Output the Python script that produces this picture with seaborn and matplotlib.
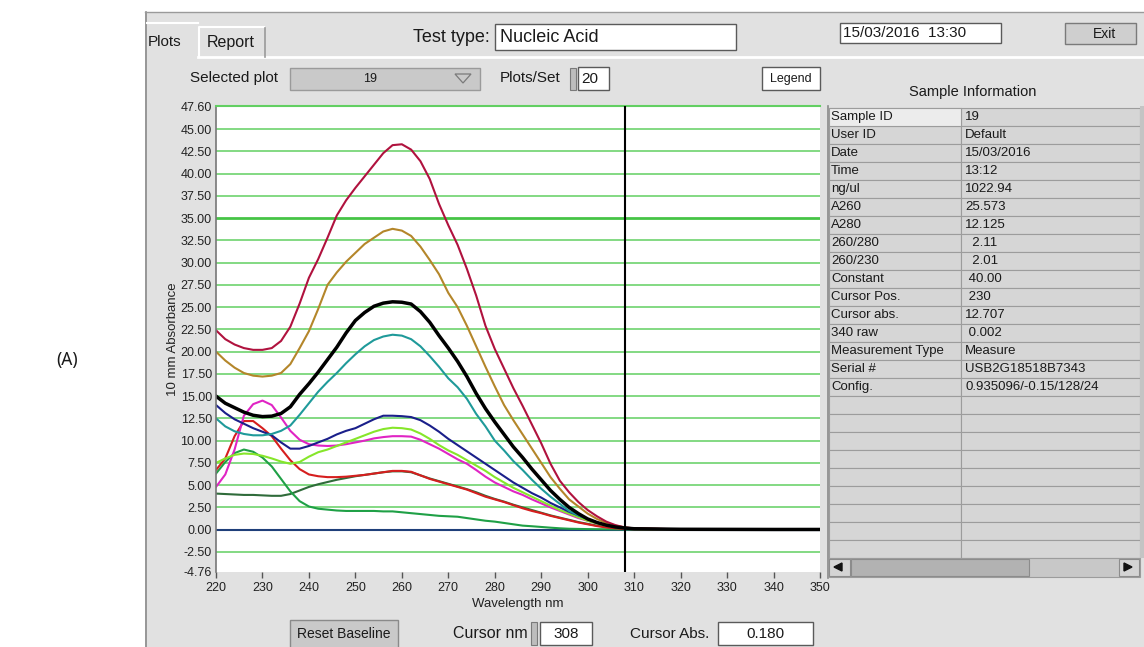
import pandas as pd
import numpy as np
import matplotlib
matplotlib.use("Agg")
import matplotlib.pyplot as plt
import seaborn as sns
from matplotlib.patches import Rectangle, Polygon
from matplotlib.lines import Line2D

plt.rcParams['font.family'] = ['Liberation Sans', 'DejaVu Sans']

# dados (absorbancia por comprimento de onda)
wavelength = [220, 222, 224, 226, 228, 230, 232, 234, 236, 238,
              240, 242, 244, 246, 248, 250, 252, 254, 256, 258,
              260, 262, 264, 266, 268, 270, 272, 274, 276, 278,
              280, 282, 284, 286, 288, 290, 292, 294, 296, 298,
              300, 302, 304, 306, 308, 310, 320, 330, 340, 350]

crimson = [22.4, 21.4, 20.8, 20.4, 20.2, 20.2, 20.4, 21.2, 22.8, 25.4,
           28.3, 30.4, 32.8, 35.3, 37.0, 38.4, 39.7, 41.0, 42.3, 43.2,
           43.3, 42.7, 41.4, 39.4, 36.6, 34.2, 32.0, 29.3, 26.3, 22.9,
           20.3, 18.1, 15.9, 13.9, 11.8, 9.7, 7.4, 5.5, 4.2, 3.1,
           2.2, 1.5, 0.9, 0.5, 0.25, 0.15, 0.04, 0.03, 0.02, 0.02]
gold = [20.0, 19.0, 18.2, 17.6, 17.3, 17.2, 17.3, 17.6, 18.6, 20.4,
        22.3, 24.8, 27.5, 28.9, 30.1, 31.1, 32.1, 32.8, 33.5, 33.8,
        33.6, 33.0, 31.8, 30.3, 28.7, 26.6, 25.0, 22.9, 20.6, 18.3,
        16.1, 14.0, 12.3, 10.7, 9.1, 7.5, 5.9, 4.6, 3.4, 2.6,
        1.8, 1.2, 0.75, 0.45, 0.25, 0.12, 0.04, 0.03, 0.02, 0.02]
black = [15.0, 14.2, 13.7, 13.2, 12.85, 12.7, 12.75, 13.05, 13.8, 15.2,
         16.4, 17.7, 19.1, 20.5, 22.1, 23.5, 24.4, 25.1, 25.45, 25.6,
         25.55, 25.35, 24.5, 23.3, 21.8, 20.4, 18.9, 17.2, 15.3, 13.6,
         12.1, 10.7, 9.3, 8.1, 6.8, 5.6, 4.4, 3.4, 2.5, 1.8,
         1.2, 0.8, 0.5, 0.3, 0.18, 0.1, 0.04, 0.03, 0.02, 0.02]
teal = [12.5, 11.6, 11.05, 10.75, 10.6, 10.6, 10.75, 11.1, 11.7, 12.9,
        14.2, 15.5, 16.6, 17.6, 18.7, 19.7, 20.6, 21.3, 21.7, 21.9,
        21.8, 21.4, 20.6, 19.5, 18.3, 17.0, 16.0, 14.7, 13.0, 11.6,
        10.0, 8.9, 7.7, 6.7, 5.6, 4.6, 3.7, 2.9, 2.1, 1.6,
        1.2, 0.8, 0.5, 0.3, 0.15, 0.1, 0.04, 0.03, 0.02, 0.02]
navy = [14.0, 13.1, 12.4, 11.9, 11.4, 11.0, 10.6, 9.8, 9.1, 9.1,
        9.4, 9.8, 10.2, 10.7, 11.1, 11.4, 11.9, 12.4, 12.8, 12.8,
        12.75, 12.65, 12.3, 11.7, 11.0, 10.2, 9.5, 8.8, 8.1, 7.4,
        6.7, 6.0, 5.3, 4.7, 4.1, 3.6, 3.0, 2.5, 2.0, 1.6,
        1.2, 0.8, 0.5, 0.3, 0.15, 0.1, 0.04, 0.03, 0.02, 0.02]
lime = [7.5, 8.0, 8.4, 8.55, 8.5, 8.3, 8.0, 7.65, 7.4, 7.6,
        8.2, 8.7, 9.0, 9.4, 9.8, 10.2, 10.6, 11.0, 11.3, 11.45,
        11.4, 11.25, 10.8, 10.2, 9.5, 8.9, 8.4, 7.8, 7.2, 6.6,
        5.9, 5.3, 4.7, 4.2, 3.7, 3.2, 2.7, 2.2, 1.8, 1.4,
        1.0, 0.7, 0.45, 0.3, 0.15, 0.1, 0.04, 0.03, 0.02, 0.02]
magenta = [4.8, 6.2, 9.0, 12.8, 14.1, 14.5, 14.0, 12.6, 11.1, 10.1,
           9.6, 9.45, 9.4, 9.45, 9.6, 9.8, 10.0, 10.25, 10.4, 10.5,
           10.5, 10.45, 10.1, 9.6, 9.1, 8.5, 7.9, 7.4, 6.7, 5.95,
           5.3, 4.8, 4.3, 3.9, 3.4, 2.95, 2.5, 2.1, 1.7, 1.3,
           1.0, 0.7, 0.45, 0.3, 0.15, 0.1, 0.04, 0.03, 0.02, 0.02]
red = [6.7, 8.0, 10.5, 12.2, 12.2, 11.4, 10.5, 9.1, 7.8, 6.8,
       6.2, 6.0, 5.9, 5.9, 5.95, 6.05, 6.15, 6.3, 6.45, 6.6,
       6.6, 6.5, 6.1, 5.7, 5.4, 5.1, 4.8, 4.5, 4.1, 3.7,
       3.4, 3.1, 2.75, 2.4, 2.1, 1.85, 1.55, 1.3, 1.05, 0.8,
       0.6, 0.4, 0.25, 0.15, 0.08, 0.05, 0.03, 0.02, 0.02, 0.02]
dark_green = [4.05, 4.0, 3.95, 3.9, 3.9, 3.85, 3.8, 3.8, 4.0, 4.4,
              4.8, 5.1, 5.35, 5.6, 5.8, 6.0, 6.15, 6.3, 6.45, 6.55,
              6.55, 6.45, 6.1, 5.75, 5.45, 5.15, 4.85, 4.55, 4.2, 3.8,
              3.45, 3.15, 2.8, 2.5, 2.2, 1.9, 1.6, 1.35, 1.1, 0.85,
              0.65, 0.45, 0.3, 0.15, 0.08, 0.05, 0.03, 0.02, 0.02, 0.02]
mid_green = [6.3, 7.6, 8.6, 9.0, 8.75, 8.1, 7.1, 5.7, 4.3, 3.2,
             2.6, 2.35, 2.25, 2.15, 2.1, 2.1, 2.1, 2.1, 2.05, 2.05,
             1.95, 1.85, 1.75, 1.65, 1.55, 1.5, 1.45, 1.3, 1.15, 1.0,
             0.9, 0.75, 0.6, 0.45, 0.38, 0.3, 0.22, 0.15, 0.1, 0.08,
             0.06, 0.05, 0.04, 0.03, 0.02, 0.02, 0.02, 0.02, 0.02, 0.02]
baseline = [0.0] * len(wavelength)

series_names = ['baseline', 'dark_green', 'mid_green', 'red', 'magenta', 'lime',
                'navy', 'teal', 'gold', 'crimson']
series_values = [baseline, dark_green, mid_green, red, magenta, lime, navy, teal, gold, crimson]
series_colors = ['#1f3f7a', '#2f6b3a', '#1fa046', '#d61e1e', '#e024c4', '#86e62a',
                 '#1a1f8a', '#1f9a9a', '#b4862a', '#b0123e']

x_ticks = [220, 230, 240, 250, 260, 270, 280, 290, 300, 310, 320, 330, 340, 350]
y_ticks = [-4.76, -2.50, 0.00, 2.50, 5.00, 7.50, 10.00, 12.50, 15.00, 17.50, 20.00, 22.50,
           25.00, 27.50, 30.00, 32.50, 35.00, 37.50, 40.00, 42.50, 45.00, 47.60]
cursor_nm = 308
cursor_abs = "0.180"

info_labels = ['Sample ID', 'User ID', 'Date', 'Time', 'ng/ul', 'A260', 'A280', '260/280',
               '260/230', 'Constant', 'Cursor Pos.', 'Cursor abs.', '340 raw',
               'Measurement Type', 'Serial #', 'Config.']
info_values = ['19', 'Default', '15/03/2016', '13:12', '1022.94', '25.573', '12.125',
               '  2.11', '  2.01', ' 40.00', ' 230', '12.707', ' 0.002', 'Measure',
               'USB2G18518B7343', '0.935096/-0.15/128/24']

for v in series_values + [black]:
    assert len(v) == len(wavelength)

# tabela longa para o seaborn
df = pd.concat([pd.DataFrame({'wl': wavelength, 'abs': v, 'serie': n})
                for n, v in zip(series_names, series_values)], ignore_index=True)
df_black = pd.DataFrame({'wl': wavelength, 'abs': black})

W, H = 1144, 647
fig = plt.figure(figsize=(W / 100, H / 100), dpi=100)
fig.patch.set_facecolor('white')


def fx(x):
    return x / W


def fy(y):
    return 1 - y / H


def caixa(x0, y0, x1, y1, fc, ec='none', lw=1.0, z=1):
    fig.patches.append(Rectangle((fx(x0), fy(y1)), fx(x1) - fx(x0), fy(y0) - fy(y1),
                                 transform=fig.transFigure, facecolor=fc, edgecolor=ec,
                                 linewidth=lw, zorder=z))


def linha(xs, ys, color, lw=1.0, z=2):
    fig.add_artist(Line2D([fx(x) for x in xs], [fy(y) for y in ys], color=color,
                          linewidth=lw, transform=fig.transFigure, zorder=z))


def texto(x, y, s, size=10, ha='left', color='#1a1a1a', z=3, **kw):
    fig.text(fx(x), fy(y), s, fontsize=size, ha=ha, va='center', color=color, zorder=z, **kw)


# painel cinza
caixa(145, 12, 1144, 647, '#e1e1e1', z=0.5)
linha([146, 146], [12, 647], '#8a8a8a', 1.2)
linha([145, 1144], [12, 12], '#9a9a9a', 1.0)
texto(67, 360, '(A)', size=12.5, ha='center', family=['Noto Sans', 'DejaVu Sans'])

# abas
linha([198, 1144], [57, 57], '#ffffff', 2.0)
linha([147, 198], [23, 23], '#ffffff', 1.5)
texto(148, 42, 'Plots', size=11)
caixa(199, 27, 265, 57, '#e1e1e1', ec='none')
linha([199, 199, 264], [57, 27, 27], '#ffffff', 1.5)
linha([265, 265], [28, 57], '#9a9a9a', 1.2)
texto(231, 42, 'Report', size=11.5, ha='center')

texto(490, 38, 'Test type:', size=13, ha='right')
caixa(495, 24, 736, 50, 'white', ec='#5a5a5a', lw=1.0)
texto(500, 38, 'Nucleic Acid', size=13)

caixa(840, 23, 1001, 43, 'white', ec='#5a5a5a', lw=1.0)
texto(843, 33, '15/03/2016  13:30', size=11)
caixa(1065, 23, 1136, 44, '#cfcfcf', ec='#7a7a7a', lw=1.0)
texto(1104, 34, 'Exit', size=10, ha='center')

texto(190, 78, 'Selected plot', size=11)
caixa(290, 68, 480, 90, '#c9c9c9', ec='#9a9a9a', lw=1.0)
texto(370, 79, '19', size=9, ha='center')
fig.patches.append(Polygon([(fx(455), fy(74)), (fx(471), fy(74)), (fx(463), fy(83))],
                           closed=True, fill=False, edgecolor='#7a7a7a', linewidth=0.9,
                           transform=fig.transFigure, zorder=3))
texto(500, 78, 'Plots/Set', size=11)
caixa(570, 68, 576, 90, '#bdbdbd', ec='#7a7a7a', lw=0.8)
caixa(578, 67, 609, 90, 'white', ec='#5a5a5a', lw=1.0)
texto(581, 79, '20', size=11)
caixa(762, 67, 820, 90, 'white', ec='#5a5a5a', lw=1.0)
texto(791, 79, 'Legend', size=9, ha='center')
texto(973, 92, 'Sample Information', size=10.5, ha='center')

# tabela de informacoes
row_h = 18.0
top = 108
n_rows = 25
for i in range(n_rows):
    y0 = top + i * row_h
    caixa(829, y0, 961, y0 + row_h, '#d6d6d6', ec='#9c9c9c', lw=0.8)
    caixa(961, y0, 1140, y0 + row_h, '#d6d6d6', ec='#9c9c9c', lw=0.8)
caixa(829, top, 961, top + row_h, '#ececec', ec='#9c9c9c', lw=0.8, z=1.1)
for i, (lab, val) in enumerate(zip(info_labels, info_values)):
    yc = top + i * row_h + row_h / 2
    texto(831, yc, lab, size=9.5)
    texto(965, yc, val, size=9.5)
linha([828, 828], [106, 578], '#8a8a8a', 1.2)
caixa(1140, 106, 1144, 558, '#c4c4c4')
caixa(829, 558, 1140, 577, '#c8c8c8', ec='#9c9c9c', lw=0.8)
caixa(851, 559, 1029, 576, '#b2b2b2', ec='#8c8c8c', lw=0.8)
caixa(829, 559, 850, 576, '#d4d4d4', ec='#8c8c8c', lw=0.8)
caixa(1119, 559, 1139, 576, '#d4d4d4', ec='#8c8c8c', lw=0.8)
fig.patches.append(Polygon([(fx(834), fy(567)), (fx(842), fy(563)), (fx(842), fy(571))],
                           closed=True, color='#111111', transform=fig.transFigure, zorder=3))
fig.patches.append(Polygon([(fx(1132), fy(567)), (fx(1124), fy(563)), (fx(1124), fy(571))],
                           closed=True, color='#111111', transform=fig.transFigure, zorder=3))

# controles de baixo
caixa(290, 620, 398, 650, '#c9c9c9', ec='#8a8a8a', lw=1.0)
texto(344, 634, 'Reset Baseline', size=10, ha='center')
texto(528, 633, 'Cursor nm', size=11.5, ha='right')
caixa(531, 622, 537, 645, '#bdbdbd', ec='#7a7a7a', lw=0.8)
caixa(540, 622, 592, 645, 'white', ec='#5a5a5a', lw=1.0)
texto(566, 634, str(cursor_nm), size=11, ha='center')
texto(630, 634, 'Cursor Abs.', size=11)
caixa(718, 622, 813, 645, 'white', ec='#5a5a5a', lw=1.0)
texto(765, 634, cursor_abs, size=11, ha='center')

# grafico
ax = fig.add_axes([fx(216), fy(572), fx(820) - fx(216), fy(106) - fy(572)])
ax.set_zorder(5)
ax.set_facecolor('white')

sns.lineplot(data=df, x='wl', y='abs', hue='serie', hue_order=series_names,
             palette=dict(zip(series_names, series_colors)), estimator=None, sort=False,
             linewidth=1.5, legend=False, ax=ax)
sns.lineplot(data=df_black, x='wl', y='abs', color='black', estimator=None, sort=False,
             linewidth=2.5, legend=False, ax=ax)
ax.axvline(cursor_nm, color='black', linewidth=1.5, zorder=6)

ax.set_xlim(220, 350)
ax.set_ylim(y_ticks[0], y_ticks[-1])
ax.set_xticks(x_ticks)
ax.set_xticklabels([str(t) for t in x_ticks])
ax.set_yticks(y_ticks)
ax.set_yticklabels(['%.2f' % t for t in y_ticks])
ax.tick_params(axis='y', length=0, pad=3, labelsize=9, labelcolor='#222222')
ax.tick_params(axis='x', length=4, width=1, color='#555555', pad=3, labelsize=9,
               labelcolor='#222222')
ax.yaxis.grid(True, color='#62cf62', linewidth=1.1)
ax.set_axisbelow(True)
grid = ax.get_ygridlines()
grid[0].set_visible(False)
grid[-1].set_visible(False)
grid[y_ticks.index(35.00)].set_linewidth(2.0)
grid[y_ticks.index(35.00)].set_color('#46c446')

for s in ['right', 'bottom']:
    ax.spines[s].set_visible(False)
ax.spines['top'].set_color('#62cf62')
ax.spines['top'].set_linewidth(1.5)
ax.spines['left'].set_color('#777777')
ax.spines['left'].set_linewidth(1.2)

ax.set_xlabel('Wavelength nm', fontsize=9.5, color='#222222', labelpad=3)
ax.set_ylabel('10 mm Absorbance', fontsize=9.5, color='#222222', labelpad=1)

fig.savefig('out.png', dpi=100, facecolor=fig.get_facecolor())
